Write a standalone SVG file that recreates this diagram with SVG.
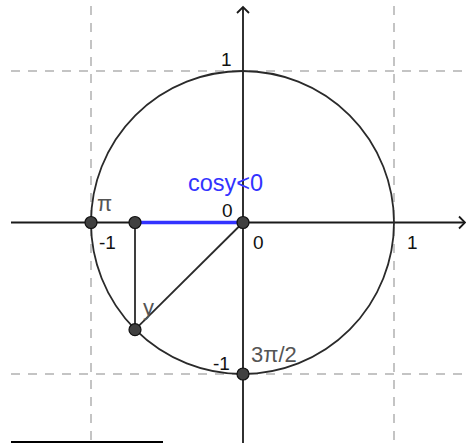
<svg xmlns="http://www.w3.org/2000/svg" width="466" height="443" viewBox="0 0 466 443">
<style>
.grid{stroke:#c4c4c4;stroke-width:2;stroke-dasharray:9 8;fill:none}
.ax{stroke:#1a1a1a;stroke-width:1.8;fill:none}
.ln{stroke:#2a2a2a;stroke-width:1.8;fill:none}
.pt{fill:#404040;stroke:#111;stroke-width:1.2}
.lab{font-family:"Liberation Sans",Arial,sans-serif;font-size:19px;fill:#111}
.glab{font-family:"Liberation Sans",Arial,sans-serif;font-size:22px;fill:#555}
.blab{font-family:"Liberation Sans",Arial,sans-serif;font-size:23.5px;fill:#3333ff}
</style>
<rect width="466" height="443" fill="#ffffff"/>
<g id="grid">
<line class="grid" x1="11" y1="71" x2="466" y2="71"/>
<line class="grid" x1="11" y1="374" x2="466" y2="374"/>
<line class="grid" x1="91" y1="6" x2="91" y2="443"/>
<line class="grid" x1="394" y1="6" x2="394" y2="443"/>
</g>
<g id="axes">
<line class="ax" x1="11" y1="222.5" x2="465" y2="222.5"/>
<polyline class="ax" points="459,216.5 465,222.5 459,228.5"/>
<line class="ax" x1="243" y1="7" x2="243" y2="443"/>
<polyline class="ax" points="237,13 243,7 249,13"/>
</g>
<g id="circle">
<circle class="ln" cx="242.5" cy="222.5" r="151.5"/>
</g>
<g id="connectors">
<line x1="135" y1="222.5" x2="243" y2="222.5" stroke="#3333ff" stroke-width="3.5"/>
<line class="ln" x1="135" y1="222.5" x2="135" y2="329.7"/>
<line class="ln" x1="243" y1="222.5" x2="135" y2="329.7"/>
<line x1="11" y1="442" x2="163" y2="442" stroke="#000" stroke-width="2"/>
</g>
<g id="point-pi"><circle class="pt" cx="91" cy="222.5" r="6"/></g>
<g id="point-cos"><circle class="pt" cx="135" cy="222.5" r="6"/></g>
<g id="point-origin"><circle class="pt" cx="243" cy="222.5" r="6"/></g>
<g id="point-y"><circle class="pt" cx="135" cy="329.7" r="6"/></g>
<g id="point-3pi2"><circle class="pt" cx="243" cy="374" r="6"/></g>
<g id="labels">
<text class="lab" x="221" y="66">1</text>
<text class="lab" x="222" y="216.5">0</text>
<text class="lab" x="253" y="248.5">0</text>
<text class="lab" x="407" y="248.5">1</text>
<text class="lab" x="99" y="248.5">-1</text>
<text class="lab" x="213" y="369.5">-1</text>
<text class="glab" x="97" y="211">π</text>
<text class="glab" x="143" y="315">y</text>
<text class="glab" x="251" y="362">3π/2</text>
<text class="blab" x="188" y="191">cosy&lt;0</text>
</g>
</svg>
